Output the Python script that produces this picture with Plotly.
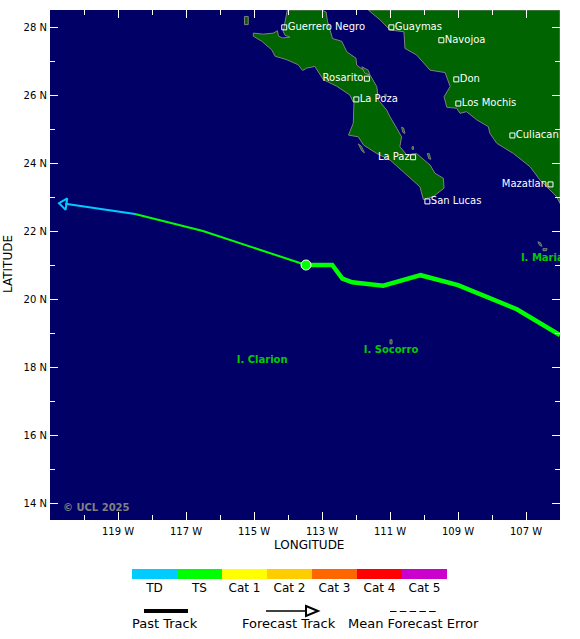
import plotly.graph_objects as go

# coastlines (lon, lat)
baja_lon = [-114.02,-113.01,-112.88,-112.84,-112.69,-112.42,-112.27,-112.0,-111.98,-111.59,-111.39,-111.34,-111.10,-111.0,-110.80,-110.66,-110.71,-110.51,-110.22,-109.82,-109.68,-109.43,-109.41,-109.73,-110.02,-110.12,-110.61,-111.0,-111.39,-111.78,-111.93,-112.22,-112.08,-112.06,-112.18,-112.57,-112.96,-113.06,-113.21,-113.45,-113.57,-113.70,-114.04,-114.38,-114.48,-114.77,-115.02,-115.02,-114.73,-114.43,-114.31,-114.28,-114.16,-113.94,-114.09,-114.14,-114.09,-114.06,-114.02]
baja_lat = [28.5,28.5,28.44,28.17,27.66,27.58,27.27,27.08,26.88,26.59,26.25,25.85,25.56,25.36,25.02,24.77,24.48,24.24,24.28,23.94,23.70,23.55,23.26,23.01,22.93,23.30,23.74,24.09,24.28,24.53,24.77,24.82,25.17,25.75,26.0,26.26,26.45,26.6,26.84,26.79,26.72,26.89,27.04,27.14,27.33,27.58,27.73,27.82,27.79,27.82,27.89,27.73,27.68,27.70,27.76,27.87,28.12,28.36,28.5]
main_lon = [-111.64,-111.29,-111.0,-110.59,-110.56,-110.22,-109.82,-109.38,-109.23,-109.41,-109.33,-109.04,-108.94,-108.75,-108.45,-108.11,-108.06,-107.86,-107.37,-106.88,-106.59,-106.10,-106.0,-106.0,-111.64]
main_lat = [28.5,28.21,27.91,27.86,27.37,27.18,26.73,26.66,26.25,25.95,25.64,25.61,25.46,25.51,25.27,25.07,24.87,24.58,24.28,23.89,23.5,23.01,22.81,28.5,28.5]
islands_lon = [
    [-115.28,-115.17,-115.17,-115.28,-115.28],
    [-111.83,-111.64,-111.59,-111.74,-111.83],
    [-110.66,-110.60,-110.56,-110.62,-110.66],
    [-109.90,-109.85,-109.80,-109.86,-109.90],
    [-110.35,-110.31,-110.31,-110.35,-110.35],
    [-111.15,-111.11,-111.11,-111.15,-111.15],
    [-111.93,-111.85,-111.75,-111.83,-111.93],
    [-111.00,-110.94,-110.94,-111.00,-111.00],
    [-106.65,-106.58,-106.53,-106.60,-106.65],
    [-106.50,-106.38,-106.40,-106.50,-106.50],
]
islands_lat = [
    [28.31,28.31,28.07,28.07,28.31],
    [26.83,26.73,26.59,26.64,26.83],
    [25.05,25.03,24.87,24.90,25.05],
    [24.28,24.28,24.11,24.13,24.28],
    [24.48,24.48,24.40,24.40,24.48],
    [26.02,26.02,25.95,25.95,26.02],
    [24.56,24.50,24.30,24.36,24.56],
    [18.80,18.80,18.68,18.68,18.80],
    [21.68,21.66,21.55,21.58,21.68],
    [21.48,21.48,21.42,21.42,21.48],
]

# track
past_lon = [-113.47,-112.7,-112.4,-112.11,-111.2,-110.1,-109.0,-107.27,-106.0]
past_lat = [21.0,21.0,20.6,20.49,20.39,20.7,20.41,19.7,18.94]
fc_ts_lon = [-113.47,-116.5,-118.5]
fc_ts_lat = [21.0,22.0,22.5]
fc_td_lon = [-118.5,-120.55]
fc_td_lat = [22.5,22.8]
head_lon = [-120.59]
head_lat = [22.8]

# places
right_names = ['Guerrero Negro','Guaymas','Navojoa','Don','Los Mochis','Culiacan','San Lucas','La Poza']
right_lon = [-114.11,-110.96,-109.49,-109.05,-108.99,-107.40,-109.90,-111.99]
right_lat = [27.99,27.99,27.61,26.46,25.75,24.81,22.87,25.87]
left_names = ['Mazatlan','La Paz','Rosarito']
left_lon = [-106.28,-110.32,-111.68]
left_lat = [23.37,24.17,26.48]
island_names = ['I. Clarion','I. Socorro']
island_lon = [-114.76,-110.97]
island_lat = [18.2,18.5]

# scale
cat_names = ['TD','TS','Cat 1','Cat 2','Cat 3','Cat 4','Cat 5']
cat_colors = ['#00ccff','#00ff00','#ffff00','#ffcc00','#ff6600','#ff0000','#cc00cc']

lon_ticks = [-119,-117,-115,-113,-111,-109,-107]
lon_labels = ['119 W','117 W','115 W','113 W','111 W','109 W','107 W']
lat_ticks = [14,16,18,20,22,24,26,28]
lat_labels = ['14 N','16 N','18 N','20 N','22 N','24 N','26 N','28 N']

W = 580
H = 639
FONT = 'DejaVu Sans'
LAND = '#006400'
COAST = '#808080'


def px(x):
    return x / W


def py(y):
    return 1 - y / H


fig = go.Figure()

fig.add_trace(go.Scatter(x=baja_lon, y=baja_lat, mode='lines', fill='toself', fillcolor=LAND,
                         line=dict(color=COAST, width=1)))
fig.add_trace(go.Scatter(x=main_lon, y=main_lat, mode='lines', fill='toself', fillcolor=LAND,
                         line=dict(color=COAST, width=1)))
for i in range(len(islands_lon)):
    fig.add_trace(go.Scatter(x=islands_lon[i], y=islands_lat[i], mode='lines', fill='toself', fillcolor=LAND,
                             line=dict(color=COAST, width=1)))

fig.add_trace(go.Scatter(x=past_lon, y=past_lat, mode='lines', line=dict(color='#00ff00', width=4.5)))
fig.add_trace(go.Scatter(x=fc_ts_lon, y=fc_ts_lat, mode='lines', line=dict(color='#00ff00', width=2)))
fig.add_trace(go.Scatter(x=fc_td_lon, y=fc_td_lat, mode='lines', line=dict(color='#00ccff', width=2)))
fig.add_trace(go.Scatter(x=head_lon, y=head_lat, mode='markers',
                         marker=dict(symbol='triangle-up-open', size=10, angle=-82,
                                     color='#00ccff', line=dict(color='#00ccff', width=2))))
fig.add_trace(go.Scatter(x=past_lon[:1], y=past_lat[:1], mode='markers',
                         marker=dict(size=10, color='#00ff00', line=dict(color='white', width=1))))

fig.add_trace(go.Scatter(x=right_lon + left_lon, y=right_lat + left_lat, mode='markers',
                         marker=dict(symbol='square-open', size=5, color='white', line=dict(color='white', width=1))))
fig.add_trace(go.Scatter(x=[v + 0.1 for v in right_lon], y=right_lat, mode='text', text=right_names,
                         textposition='middle right', textfont=dict(family=FONT, size=10, color='white')))
fig.add_trace(go.Scatter(x=[v - 0.1 for v in left_lon], y=left_lat, mode='text', text=left_names,
                         textposition='middle left', textfont=dict(family=FONT, size=10, color='white')))
fig.add_trace(go.Scatter(x=island_lon, y=island_lat, mode='text', text=island_names,
                         textposition='middle center',
                         textfont=dict(family=FONT, size=10, color='#00cc00', weight='bold')))
fig.add_trace(go.Scatter(x=[-107.15], y=[21.2], mode='text', text=['I. Maria'], textposition='middle right',
                         textfont=dict(family=FONT, size=10, color='#00cc00', weight='bold')))
fig.add_trace(go.Scatter(x=[-120.62], y=[13.85], mode='text', text=['© UCL 2025'], textposition='middle right',
                         textfont=dict(family=FONT, size=10, color='#808080', weight='bold')))

# intensity scale
fig.add_trace(go.Bar(x=cat_names, y=[1] * len(cat_names), width=1, marker=dict(color=cat_colors, line=dict(width=0)),
                     xaxis='x2', yaxis='y2'))

tick_style = dict(ticks='inside', tickcolor='white', ticklen=8, tickwidth=1, mirror='ticks', showgrid=False,
                  zeroline=False, showline=True, linecolor='rgba(0,0,0,0)', linewidth=1,
                  tickfont=dict(family=FONT, size=10, color='black'))
minor_style = dict(dtick=1, ticks='inside', ticklen=5, tickcolor='white', tickwidth=1, showgrid=False)


def label(text, x, y=623, size=13, angle=0):
    return dict(text=text, xref='paper', yref='paper', x=px(x), y=py(y), showarrow=False, textangle=angle,
                xanchor='center', yanchor='middle', font=dict(family=FONT, size=size))


fig.update_layout(
    width=W, height=H,
    margin=dict(l=0, r=0, t=0, b=0),
    paper_bgcolor='white',
    plot_bgcolor='#000066',
    showlegend=False,
    font=dict(family=FONT, color='black'),
    xaxis=dict(domain=[px(50), px(560)], range=[-121, -106], tickvals=lon_ticks, ticktext=lon_labels,
               minor=minor_style, ticklabelstandoff=2, anchor='y', **tick_style),
    yaxis=dict(domain=[py(520), py(10)], range=[13.5, 28.5], tickvals=lat_ticks, ticktext=lat_labels,
               minor=minor_style, anchor='x', **tick_style),
    xaxis2=dict(domain=[px(132), px(447)], anchor='y2', type='category', showgrid=False, zeroline=False,
                ticks='', tickfont=dict(family=FONT, size=12, color='black'), range=[-0.5, 6.5]),
    yaxis2=dict(domain=[py(579), py(569)], anchor='x2', range=[0, 1], visible=False),
    bargap=0,
    shapes=[
        dict(type='line', xref='paper', yref='paper', x0=px(144), x1=px(188), y0=py(611), y1=py(611),
             line=dict(color='black', width=4)),
        dict(type='line', xref='paper', yref='paper', x0=px(266), x1=px(306), y0=py(611), y1=py(611),
             line=dict(color='black', width=1.5)),
        dict(type='path', xref='paper', yref='paper',
             path=f'M {px(306)} {py(606)} L {px(318)} {py(611)} L {px(306)} {py(616)} Z',
             line=dict(color='black', width=2)),
        dict(type='line', xref='paper', yref='paper', x0=px(390), x1=px(436), y0=py(611.5), y1=py(611.5),
             line=dict(color='black', width=1, dash='6.5px,3.3px')),
    ],
    annotations=[
        label('Past Track', 165), label('Forecast Track', 289), label('Mean Forecast Error', 413),
        label('LONGITUDE', 309, y=545, size=12), label('LATITUDE', 8, y=264, size=12, angle=-90),
    ],
)

fig.write_html('out.html', config=dict(displayModeBar=False), post_script="document.body.style.margin='0';")
